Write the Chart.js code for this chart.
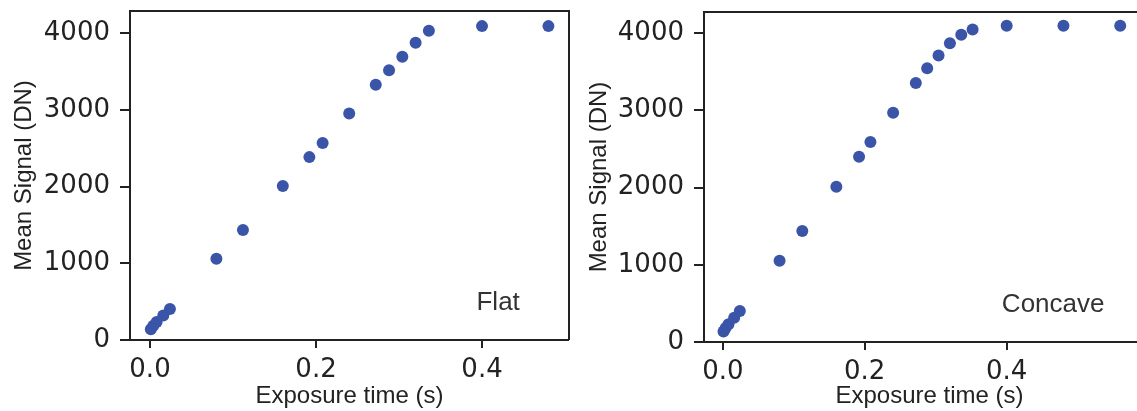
<!DOCTYPE html>
<html>
<head>
<meta charset="utf-8">
<script src="https://cdn.jsdelivr.net/npm/chart.js@4"></script>
<style>
  html, body { margin: 0; padding: 0; background: #fff; overflow: hidden; width: 1137px; height: 411px; }
  .panel { position: absolute; top: 0; height: 411px; }
  #flatBox { left: 0; width: 580px; }
  #concaveBox { left: 575px; width: 586px; }
</style>
</head>
<body>
<div class="panel" id="flatBox"><canvas id="flat"></canvas></div>
<div class="panel" id="concaveBox"><canvas id="concave"></canvas></div>
<script>
// values
const flatTime   = [0.001, 0.004, 0.008, 0.016, 0.024, 0.08, 0.112, 0.16, 0.192, 0.208, 0.24, 0.272, 0.288, 0.304, 0.32, 0.336, 0.4, 0.48];
const flatSignal = [140, 185, 235, 320, 405, 1058, 1434, 2007, 2383, 2566, 2951, 3327, 3515, 3690, 3874, 4031, 4090, 4090];

const concaveTime   = [0.001, 0.004, 0.008, 0.016, 0.024, 0.08, 0.112, 0.16, 0.192, 0.208, 0.24, 0.272, 0.288, 0.304, 0.32, 0.336, 0.352, 0.4, 0.48, 0.56];
const concaveSignal = [135, 180, 230, 315, 400, 1053, 1437, 2011, 2398, 2590, 2969, 3352, 3543, 3709, 3866, 3979, 4044, 4095, 4095, 4095];

const xTicks = [0, 0.2, 0.4];
const yTicks = [0, 1000, 2000, 3000, 4000];

const dotColor = "#3a55a8";
const ink = "#222222";

// matplotlib-like frame: full box, bottom spine sticks out a bit to the left
const framePlugin = {
  id: "frame",
  beforeDatasetsDraw(chart) {
    const { ctx, chartArea: a } = chart;
    ctx.save();
    ctx.strokeStyle = ink;
    ctx.lineWidth = 2;
    ctx.beginPath();
    ctx.moveTo(a.left, a.bottom);
    ctx.lineTo(a.left, a.top);
    ctx.lineTo(a.right, a.top);
    ctx.lineTo(a.right, a.bottom);
    ctx.moveTo(a.left - 10, a.bottom);
    ctx.lineTo(a.right, a.bottom);
    ctx.stroke();
    ctx.restore();
  },
  afterDatasetsDraw(chart, args, opts) {
    const { ctx, chartArea: a } = chart;
    ctx.save();
    ctx.fillStyle = "#333";
    ctx.font = "26px 'Liberation Sans', Arial, sans-serif";
    ctx.textAlign = "right";
    ctx.textBaseline = "alphabetic";
    ctx.fillText(opts.label, a.left + 0.888 * (a.right - a.left), a.bottom - 0.091 * (a.bottom - a.top));
    ctx.restore();
  }
};

function makeChart(id, xs, ys, label, cfg) {
  const points = xs.map((x, i) => ({ x: x, y: ys[i] }));
  return new Chart(document.getElementById(id), {
    type: "scatter",
    data: {
      datasets: [{
        data: points,
        backgroundColor: dotColor,
        borderColor: dotColor,
        borderWidth: 0,
        pointRadius: 6,
        clip: false
      }]
    },
    options: {
      responsive: true,
      maintainAspectRatio: false,
      animation: false,
      layout: { padding: { left: 0, right: cfg.padRight, top: cfg.padTop, bottom: 0 } },
      plugins: {
        legend: { display: false },
        tooltip: { enabled: false },
        frame: { label: label }
      },
      scales: {
        x: {
          type: "linear",
          min: cfg.xMin,
          max: cfg.xMax,
          afterBuildTicks: (s) => { s.ticks = xTicks.map(v => ({ value: v })); },
          afterFit: (s) => { s.height = cfg.xHeight; s.paddingLeft = 0; s.paddingRight = 0; },
          border: { display: false },
          grid: { drawOnChartArea: false, drawTicks: true, tickLength: 8, tickColor: ink, lineWidth: 2 },
          ticks: {
            color: ink,
            padding: 9,
            maxRotation: 0,
            font: { family: "'DejaVu Sans', sans-serif", size: 26, lineHeight: 1 },
            callback: (v) => v.toFixed(1)
          },
          title: {
            display: true,
            text: "Exposure time (s)",
            color: ink,
            padding: { top: 0, bottom: 0 },
            font: { family: "'Liberation Sans', Arial, sans-serif", size: 24, lineHeight: 1.2 }
          }
        },
        y: {
          type: "linear",
          min: 0,
          max: cfg.yMax,
          afterBuildTicks: (s) => { s.ticks = yTicks.map(v => ({ value: v })); },
          afterFit: (s) => { s.width = cfg.yWidth; s.paddingTop = 0; s.paddingBottom = 0; },
          border: { display: false },
          grid: { drawOnChartArea: false, drawTicks: true, tickLength: 10, tickColor: ink, lineWidth: 2 },
          ticks: {
            color: ink,
            padding: 10,
            font: { family: "'DejaVu Sans', sans-serif", size: 26 },
            callback: (v) => String(v)
          },
          title: {
            display: true,
            text: "Mean Signal (DN)",
            color: ink,
            padding: { top: 10, bottom: 0 },
            font: { family: "'Liberation Sans', Arial, sans-serif", size: 24, lineHeight: 1.2 }
          }
        }
      }
    },
    plugins: [framePlugin]
  });
}

makeChart("flat", flatTime, flatSignal, "Flat", {
  xMin: -0.0241, xMax: 0.5048, yMax: 4287,
  padRight: 11, padTop: 11, xHeight: 71, yWidth: 130
});

makeChart("concave", concaveTime, concaveSignal, "Concave", {
  xMin: -0.0265, xMax: 0.609, yMax: 4272,
  padRight: 1, padTop: 12, xHeight: 69, yWidth: 129
});
</script>
</body>
</html>
